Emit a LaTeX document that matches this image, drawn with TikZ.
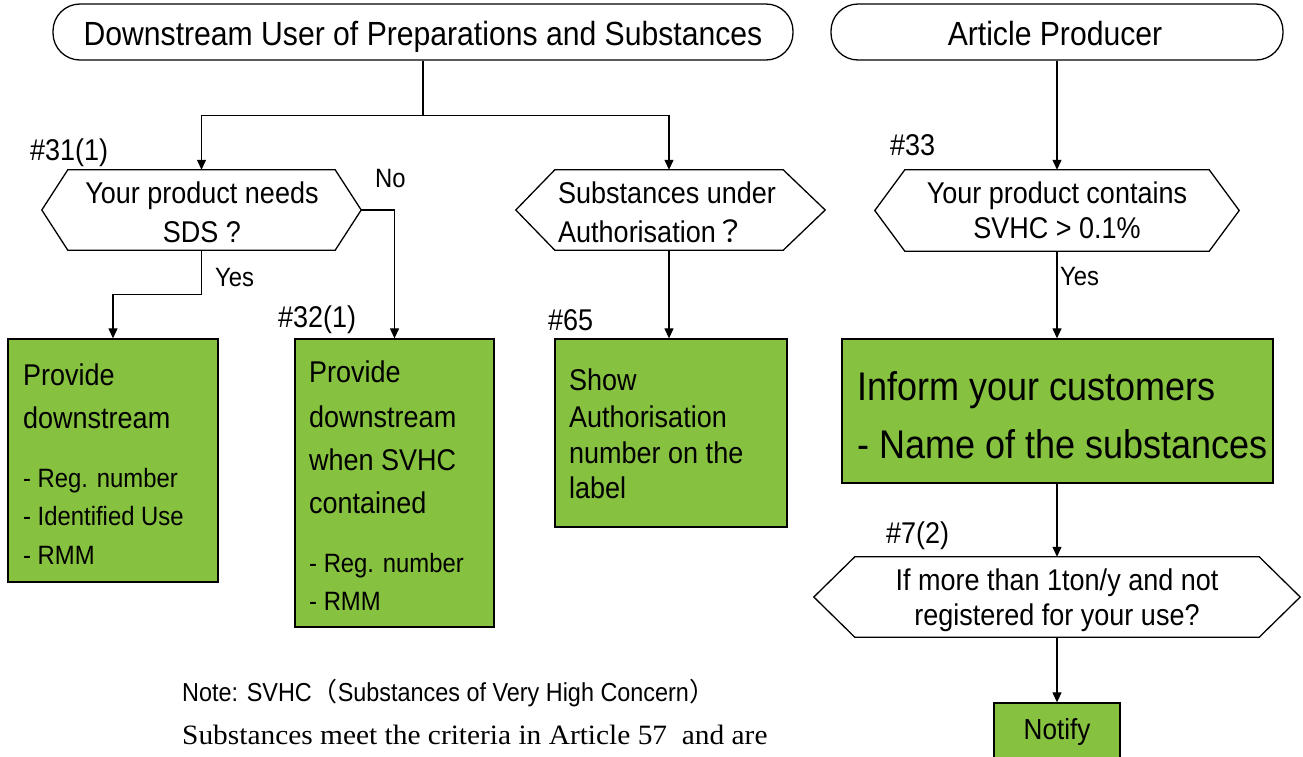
\documentclass[tikz,border=0pt]{standalone}
\usepackage{fontspec}
\setmainfont{Liberation Sans}[FakeStretch=0.9]
\newfontfamily\serifn{Liberation Serif}[FakeStretch=1.05]
\newfontfamily\cjk{Noto Sans CJK JP}
\usetikzlibrary{arrows.meta}
\definecolor{boxgreen}{RGB}{134,193,64}
\newcommand\fsz[1]{\fontsize{#1}{#1}\selectfont}
\newcommand\hexoutline[3]{\draw[shapeline, fill=white] (#1.north west) -- (#1.north east) -- ([xshift=#3]#1.east) -- (#1.south east) -- (#1.south west) -- ([xshift=-#2]#1.west) -- cycle;}
\begin{document}
\begin{tikzpicture}[x=1pt,y=-1pt,
  shapeline/.style={line width=1.3pt, draw=black},
  pill/.style={shapeline, rounded corners=27pt, minimum height=56pt, inner sep=0pt},
  hexbox/.style={draw=none, inner sep=0pt, minimum height=80pt},
  greenbox/.style={shapeline, fill=boxgreen, inner sep=0pt},
  txt/.style={inner sep=0pt, anchor=base west},
  ctxt/.style={inner sep=0pt, anchor=base},
  big/.style={font=\fsz{33.5}},
  norm/.style={font=\fsz{30}},
  small/.style={font=\fsz{26.5}},
  huge/.style={font=\fsz{40}},
  conn/.style={line width=1.2pt},
  arr/.style={conn, -{Triangle[length=10pt,width=9pt]}},
]
\useasboundingbox (0,0) rectangle (1303,756);

% ---- shapes ----
\node[pill, minimum width=740pt] (t1) at (423,32) {};
\node[pill, minimum width=452pt] (t2) at (1057,32) {};

\node[hexbox, minimum width=267pt] (h1) at (201.5,210) {};
\node[hexbox, minimum width=228pt] (h2) at (669,210) {};
\node[hexbox, minimum width=304pt, minimum height=81pt] (h3) at (1057,210.5) {};
\node[hexbox, minimum width=404pt] (h4) at (1057,597) {};
\hexoutline{h1}{26pt}{26pt}
\hexoutline{h2}{39pt}{42pt}
\hexoutline{h3}{30pt}{30pt}
\hexoutline{h4}{41pt}{41pt}

\node[greenbox, minimum width=210pt, minimum height=243pt] (b1) at (113,460.5) {};
\node[greenbox, minimum width=199pt, minimum height=288pt] (b2) at (394.5,483) {};
\node[greenbox, minimum width=232pt, minimum height=188pt] (b3) at (671,433) {};
\node[greenbox, minimum width=431pt, minimum height=144pt] (b4) at (1057.5,411) {};
\node[greenbox, minimum width=126pt, minimum height=67pt] (b5) at (1057,736.5) {};

% ---- connectors ----
\draw[conn] (t1.south) -- ++(0,55) coordinate (j1);
\draw[arr] (j1) -| (h1.north);
\draw[arr] (j1) -| (h2.north);
\draw[arr] (h1.south) -- ++(0,44) -| (b1.north);
\draw[arr] ([xshift=26pt]h1.east) -| (b2.north);
\draw[arr] (h2.south) -- (h2.south |- b3.north);
\draw[arr] (t2.south) -- (h3.north);
\draw[arr] (h3.south) -- (h3.south |- b4.north);
\draw[arr] (b4.south -| h3.south) -- (h4.north);
\draw[arr] (h4.south) -- (b5.north);

% ---- texts ----
\node[ctxt, big] (t1a) at (423,45) {Downstream User of Preparations and Substances};
\node[ctxt, big] (t2a) at (1055,45) {Article Producer};

\node[txt, norm] (l31) at (30,160) {\#31(1)};
\node[ctxt, norm] (h1a) at (202,203) {Your product needs};
\node[ctxt, norm] (h1b) at (202,242) {SDS ?};
\node[txt, small] (lno) at (375,187) {No};
\node[txt, small] (lyes1) at (215,286) {Yes};
\node[txt, norm] (l32) at (278,327) {\#32(1)};

\node[txt, norm] (b1a) at (23,385) {Provide};
\node[txt, norm] (b1b) at (23,428) {downstream};
\node[txt, small] (b1c) at (23,487) {- Reg. number};
\node[txt, small] (b1d) at (23,525) {- Identified Use};
\node[txt, small] (b1e) at (23,564) {- RMM};

\node[txt, norm] (b2a) at (309,382) {Provide};
\node[txt, norm] (b2b) at (309,427) {downstream};
\node[txt, norm] (b2c) at (309,470) {when SVHC};
\node[txt, norm] (b2d) at (309,513) {contained};
\node[txt, small] (b2e) at (309,572) {- Reg. number};
\node[txt, small] (b2f) at (309,610) {- RMM};

\node[txt, norm] (h2a) at (558,203) {Substances under};
\node[txt, norm] (h2b) at (558,242) {Authorisation{\cjk ？}};
\node[txt, norm] (l65) at (548,330) {\#65};
\node[txt, norm] (b3a) at (569,390) {Show};
\node[txt, norm] (b3b) at (569,427) {Authorisation};
\node[txt, norm] (b3c) at (569,463) {number on the};
\node[txt, norm] (b3d) at (569,498) {label};

\node[txt, norm] (l33) at (890,155) {\#33};
\node[ctxt, norm] (h3a) at (1057,203) {Your product contains};
\node[ctxt, norm] (h3b) at (1057,238) {SVHC > 0.1\%};
\node[txt, small] (lyes2) at (1060,285) {Yes};

\node[txt, huge] (b4a) at (857,400) {Inform your customers};
\node[txt, huge] (b4b) at (857,458) {- Name of the substances};

\node[txt, norm] (l7) at (886,543) {\#7(2)};
\node[ctxt, norm] (h4a) at (1057,590) {If more than 1ton/y and not};
\node[ctxt, norm] (h4b) at (1057,625) {registered for your use?};
\node[ctxt, font=\fsz{29}] (b5a) at (1057,739) {Notify};

\node[txt, font=\fsz{26}] (n1) at (182,701) {Note: SVHC{\cjk （}Substances of Very High Concern{\cjk ）}};
\node[txt, font=\serifn\fsz{28}] (n2) at (182,744) {Substances meet the criteria in Article 57\ \ and are};
\end{tikzpicture}
\end{document}
